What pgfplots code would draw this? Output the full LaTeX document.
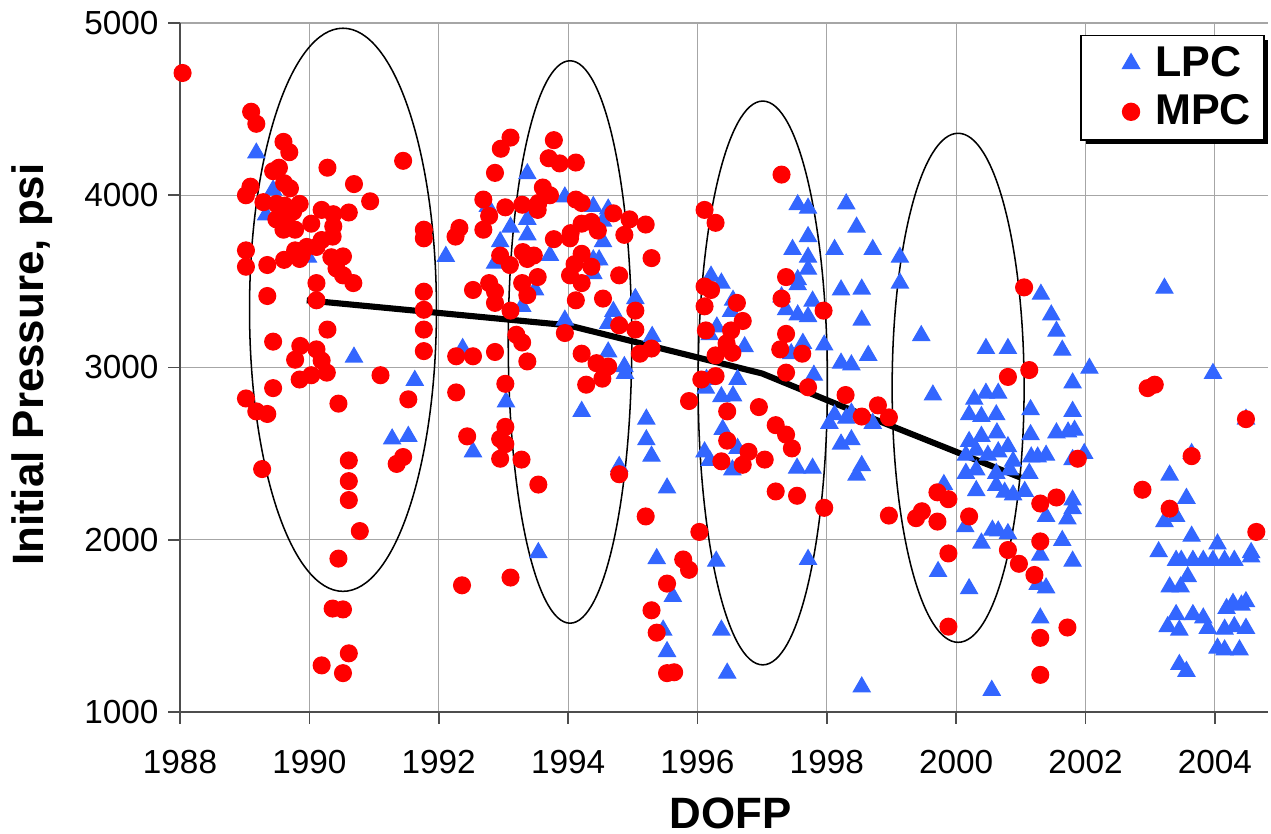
\documentclass[border=0pt]{standalone}
\usepackage{fontspec}
\setmainfont{Liberation Sans}
\usepackage{pgfplots}
\pgfplotsset{compat=1.18}
\usetikzlibrary{shadows}
\definecolor{lpcblue}{HTML}{3366FF}
\definecolor{mpcred}{HTML}{FF0000}
\definecolor{gridgray}{HTML}{A6A6A6}
\definecolor{axisgray}{HTML}{4D4D4D}
% legend image: one mark with some room left and right of it
\pgfplotsset{padded marks legend/.style={legend image code/.code={\path (-6.5pt,0) (15pt,0);
    \draw[mark repeat=2,mark phase=2,##1] plot coordinates {(0cm,0cm) (0.3cm,0cm) (0.6cm,0cm)};}}}

\begin{document}
\begin{tikzpicture}
\begin{axis}[
  scale only axis, width=391.7pt, height=248pt,
  xmin=1988, xmax=2004.82, ymin=1000, ymax=5000,
  xtick={1988,1990,...,2004}, ytick={1000,2000,...,5000},
  axis x line*=bottom, axis y line*=left,
  axis line style={axisgray, line width=0.6pt},
  tick align=outside, major tick length=4.2pt,
  tick style={axisgray, line width=0.6pt},
  grid=major, major grid style={gridgray, line width=0.4pt},
  /pgf/number format/1000 sep={}, /pgf/number format/assume math mode=true,
  tick label style={font=\fontsize{12}{14}\selectfont},
  xticklabel shift=6pt,
  label style={font=\fontsize{15.8}{19}\selectfont\bfseries},
  xlabel={DOFP}, ylabel={Initial Pressure, psi},
  xlabel style={at={(axis description cs:0.506,-0.1468)}, anchor=center},
  ylabel style={at={(axis description cs:-0.136,0.504)}, anchor=center},
  legend style={at={(0.997,0.983)}, anchor=north east, draw=black, line width=0.5pt,
    fill=white, font=\fontsize{15.5}{18}\selectfont\bfseries,
    inner xsep=2.7pt, inner ysep=2pt, row sep=1pt,
    drop shadow={shadow xshift=1.6pt, shadow yshift=-1.6pt, fill=black, opacity=1}},
  legend cell align=left,
]
% LPC
\addplot[only marks, mark=triangle*, mark size=3.5pt, color=lpcblue, mark options={draw=none, fill=lpcblue},
  padded marks legend] coordinates {
(1989.18,4245) (1989.44,4030) (1989.33,3885) (1989.98,3640) (1990.69,3060) (1992.11,3645)
(1991.63,2925) (1991.28,2585) (1991.53,2600)
(1993.37,4125) (1993.95,3990) (1992.76,3935) (1994.39,3935) (1994.62,3920) (1994.54,3850)
(1993.37,3860) (1993.11,3815) (1993.37,3770) (1992.95,3730) (1994.54,3730) (1993.72,3650)
(1992.87,3605) (1994.39,3625) (1994.48,3625) (1994.39,3545) (1993.29,3355) (1993.49,3450)
(1994.70,3325) (1994.62,3255) (1995.04,3400) (1993.95,3275) (1995.30,3180) (1992.37,3110)
(1994.62,3090) (1994.87,3005)
(1994.88,2965) (1993.04,2800) (1994.21,2745) (1995.21,2700) (1995.21,2580) (1995.29,2485)
(1992.53,2510) (1994.79,2425) (1995.53,2300) (1993.54,1925) (1995.37,1890) (1995.62,1670)
(1995.47,1475) (1995.53,1350) (1996.11,2510) (1996.14,2930)
(1997.55,3945) (1997.71,3925) (1998.30,3950) (1998.46,3815) (1997.71,3760) (1997.47,3685)
(1997.71,3640) (1998.12,3685) (1998.71,3685) (1999.13,3640) (1997.71,3570) (1997.55,3510)
(1997.55,3480) (1996.21,3530) (1996.37,3490) (1998.22,3450) (1998.54,3455) (1999.13,3490)
(1997.78,3385) (1997.30,3410) (1997.37,3335) (1997.55,3305) (1997.71,3295) (1996.55,3390)
(1996.52,3325) (1998.54,3275) (1999.46,3185) (1996.30,3235) (1996.19,3190) (1996.73,3120)
(1997.63,3140) (1997.96,3130) (1998.64,3070) (1998.22,3025) (1998.38,3015) (1997.45,3080)
(1996.13,2880) (1996.37,2830) (1996.55,2835) (1996.62,2930) (1996.39,2640) (1996.19,2460)
(1996.54,2405) (1996.62,2530) (1997.80,2955) (1997.54,2415) (1997.78,2415) (1998.04,2675)
(1998.12,2725) (1998.30,2705) (1998.38,2735) (1998.22,2555) (1998.38,2580) (1998.54,2430)
(1998.46,2375) (1998.71,2675) (1999.64,2840) (1999.81,2320) (1996.29,1875) (1997.71,1885)
(1996.37,1475) (1996.46,1225) (1998.54,1145) (1999.72,1815)
(2002.06,2995) (2003.97,2965) (2001.80,2910) (2000.28,2815) (2000.46,2850) (2000.65,2850)
(2000.20,2725) (2000.39,2715) (2000.62,2725) (2001.15,2755) (2001.80,2745) (2000.20,2570)
(2000.39,2600) (2000.63,2620) (2000.80,2540) (2001.15,2610) (2001.55,2620) (2001.73,2625)
(2001.83,2635) (2000.15,2490) (2000.31,2520) (2000.49,2490) (2000.65,2510) (2000.88,2455)
(2001.16,2480) (2001.26,2480) (2001.39,2490) (2001.80,2465) (2001.98,2500) (2000.15,2385)
(2000.31,2405) (2000.62,2385) (2000.83,2405) (2001.13,2385) (2000.31,2285) (2000.62,2315)
(2000.75,2275) (2000.88,2260) (2001.06,2280) (2001.80,2230) (2001.80,2180) (2001.72,2120)
(2001.39,2135) (2000.14,2075) (2000.56,2055) (2000.65,2050) (2000.80,2035) (2000.39,1980)
(2001.30,1910) (2001.64,1995) (2001.80,1875) (2000.20,1715) (2001.26,1740) (2001.39,1720)
(2001.30,1545) (2000.55,1125)
(2003.30,2375) (2003.56,2240) (2003.22,2105) (2003.40,2135) (2003.64,2020) (2003.13,1930)
(2004.04,1975) (2004.56,1925) (2003.40,1880) (2003.48,1880) (2003.66,1880) (2003.82,1880)
(2003.97,1880) (2004.15,1880) (2004.30,1880) (2004.56,1900) (2003.58,1785) (2003.30,1725)
(2003.47,1725) (2004.28,1630) (2004.41,1620) (2004.48,1640) (2004.18,1600) (2003.40,1565)
(2003.66,1565) (2003.82,1545) (2003.27,1495) (2003.45,1475) (2003.89,1485) (2004.15,1480)
(2004.30,1495) (2004.48,1485) (2004.04,1370) (2004.15,1360) (2004.38,1360) (2003.45,1275)
(2003.56,1235) (2003.22,3460) (2001.31,3425) (2001.47,3305) (2001.55,3210) (2001.64,3100)
(2000.46,3110) (2000.80,3110) (2004.48,2700) (2003.64,2500)
};
\addlegendentry{LPC}
% MPC
\addplot[only marks, mark=*, mark size=3.05pt, color=mpcred, mark options={draw=none, fill=mpcred},
  padded marks legend] coordinates {
(1988.04,4710) (1989.10,4485) (1989.18,4415) (1989.60,4310) (1989.69,4250) (1990.28,4160)
(1991.45,4200) (1989.44,4140) (1989.53,4160) (1990.69,4065) (1990.94,3965) (1989.09,4050)
(1989.02,4000) (1989.61,4070) (1989.70,4040) (1989.29,3960) (1989.49,3950) (1989.62,3940)
(1989.85,3950) (1989.55,3895) (1989.75,3905) (1990.19,3915) (1990.37,3890) (1990.61,3900)
(1989.49,3860) (1989.65,3860) (1990.03,3835) (1989.60,3800) (1989.78,3800) (1990.37,3820)
(1990.36,3760) (1990.19,3740) (1990.11,3700) (1989.96,3700) (1989.78,3680) (1989.88,3650)
(1989.02,3680) (1989.02,3585) (1989.35,3595) (1989.61,3625) (1989.85,3630) (1990.34,3640)
(1990.52,3645) (1990.42,3575) (1990.52,3535) (1990.68,3490) (1990.11,3490) (1991.77,3800)
(1991.77,3750) (1989.35,3415) (1990.11,3390) (1991.77,3440) (1991.77,3335) (1991.77,3220)
(1991.77,3095) (1990.28,3220) (1989.44,3150) (1989.86,3125) (1989.78,3045) (1990.11,3105)
(1990.19,3040)
(1989.85,2930) (1990.03,2955) (1990.27,2970) (1991.10,2955) (1989.44,2880) (1989.02,2820)
(1989.18,2745) (1989.35,2730) (1990.45,2790) (1991.53,2815) (1989.27,2410) (1990.61,2460)
(1990.61,2340) (1990.61,2230) (1990.78,2050) (1991.45,2480) (1991.35,2440) (1990.45,1890)
(1990.36,1600) (1990.52,1595) (1990.61,1340) (1990.19,1270) (1990.52,1225)
(1993.11,4335) (1992.96,4270) (1992.87,4130) (1993.78,4320) (1993.70,4215) (1993.87,4185)
(1994.12,4190) (1992.69,3975) (1993.03,3930) (1992.78,3880) (1993.29,3945) (1993.61,4045)
(1993.72,4000) (1993.54,3955) (1993.53,3915) (1994.12,3975) (1994.21,3955) (1994.70,3895)
(1994.95,3860) (1995.20,3830) (1992.32,3810) (1992.26,3760) (1992.69,3800) (1994.21,3835)
(1994.36,3845) (1994.46,3795) (1994.04,3780) (1994.03,3750) (1994.87,3770) (1993.78,3745)
(1992.95,3650) (1993.10,3595) (1993.30,3670) (1993.37,3630) (1993.47,3650) (1994.21,3660)
(1994.10,3600) (1994.36,3585) (1995.29,3635) (1994.03,3535) (1994.21,3490) (1994.79,3535)
(1993.53,3525) (1993.29,3490) (1993.37,3420) (1992.78,3490) (1992.87,3440) (1992.87,3375)
(1992.53,3450) (1993.11,3330) (1994.12,3390) (1994.54,3400) (1995.04,3330) (1994.79,3245)
(1995.04,3220) (1993.20,3190) (1993.29,3145) (1993.95,3200) (1992.87,3090) (1994.21,3080)
(1995.11,3080) (1995.29,3110) (1992.27,3065) (1992.53,3065) (1993.37,3035) (1994.44,3025)
(1994.62,3005)
(1993.03,2905) (1992.27,2855) (1994.28,2900) (1994.53,2935) (1995.87,2805) (1993.03,2655)
(1992.95,2585) (1993.03,2555) (1992.44,2600) (1992.95,2470) (1993.28,2465) (1993.54,2320)
(1994.79,2380) (1995.20,2135) (1996.03,2045) (1992.36,1735) (1993.11,1780) (1995.78,1885)
(1995.87,1825) (1995.53,1745) (1995.29,1590) (1995.37,1460) (1995.53,1225) (1995.64,1230)
(1997.30,4120) (1996.11,3915) (1996.28,3840) (1997.37,3525) (1997.30,3400) (1997.95,3330)
(1996.11,3470) (1996.21,3450) (1996.11,3355) (1996.61,3375) (1996.70,3270) (1996.13,3215)
(1996.52,3215) (1996.45,3140) (1996.54,3085) (1996.28,3070) (1997.37,3195) (1997.28,3105)
(1997.62,3080)
(1996.06,2930) (1996.28,2950) (1997.37,2970) (1997.71,2885) (1998.29,2840) (1998.79,2780)
(1998.96,2710) (1998.54,2715) (1996.46,2745) (1996.95,2770) (1997.21,2665) (1997.37,2610)
(1997.46,2530) (1996.46,2575) (1996.79,2510) (1996.70,2435) (1996.37,2455) (1997.04,2465)
(1997.21,2280) (1997.54,2255) (1997.96,2185) (1998.96,2140) (1999.71,2275) (1999.88,2235)
(1999.38,2125) (1999.47,2165) (1999.71,2105) (2000.20,2135) (1999.88,1920) (1999.88,1495)
(2000.80,2945) (2001.13,2985) (2001.05,3465) (2001.88,2470) (2001.30,2210) (2001.55,2245)
(2001.30,1990) (2000.80,1940) (2000.97,1860) (2001.21,1795) (2001.72,1490) (2001.30,1430)
(2001.30,1215) (2002.96,2880) (2003.07,2900) (2003.64,2485) (2002.88,2290) (2003.30,2180)
(2004.48,2700) (2004.64,2045)
};
\addlegendentry{MPC}
% trend line
\addplot[black, line width=2.2pt, no marks, forget plot] coordinates {
(1989.96,3390) (1994.0,3245) (1997.0,2965) (1998.2,2780) (2001.0,2360)
};
\draw[black, line width=0.55pt] (axis cs:1990.52,3335) ellipse [x radius=1.445, y radius=1635];
\draw[black, line width=0.55pt] (axis cs:1994.03,3148) ellipse [x radius=0.955, y radius=1633];
\draw[black, line width=0.55pt] (axis cs:1997.01,2910) ellipse [x radius=1.0, y radius=1637];
\draw[black, line width=0.55pt] (axis cs:2000.03,2882) ellipse [x radius=1.02, y radius=1478];
\end{axis}
\pgfresetboundingbox
\path ([xshift=-64.8pt,yshift=-43.9pt]current axis.south west) rectangle ([xshift=1.1pt,yshift=8.3pt]current axis.north east);
\end{tikzpicture}
\end{document}
